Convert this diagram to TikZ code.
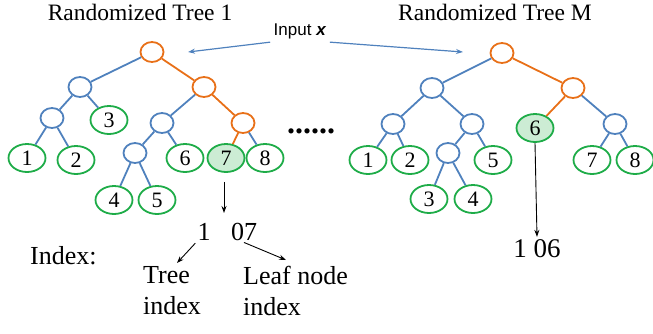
\documentclass[tikz,border=0pt]{standalone}
\usepackage{fontspec}
\setmainfont{Liberation Serif}
\newfontfamily\inputfont{Liberation Sans}
\usetikzlibrary{arrows.meta, shapes.geometric}
\definecolor{treeblue}{RGB}{79,129,189}
\definecolor{treeorange}{RGB}{232,112,24}
\definecolor{leafgreen}{RGB}{30,172,72}
\definecolor{leaffill}{RGB}{204,236,212}
\tikzset{
  inner/.style = {ellipse, draw = treeblue, line width = 1.8pt, minimum width = 23pt, minimum height = 20pt, inner sep = 0pt},
  pathnode/.style = {inner, draw = treeorange},
  leaf/.style = {ellipse, draw = leafgreen, line width = 1.8pt, minimum width = 37pt, minimum height = 28pt, inner sep = 0pt, font = \fontsize{22}{22}\selectfont},
  hitleaf/.style = {leaf, fill = leaffill},
  edge/.style = {treeblue, line width = 1.8pt},
  pathedge/.style = {treeorange, line width = 1.8pt},
  bigtext/.style = {font = \fontsize{26}{31}\selectfont, inner sep = 2pt},
  arr/.style = {-{Stealth[length = 7pt, width = 5pt]}, line width = 0.9pt}
}

\begin{document}
\begin{tikzpicture}[x = 1pt, y = -1pt]
\useasboundingbox (0,0) rectangle (653,333);
\node [font = \fontsize{23.5}{23.5}\selectfont] (title1) at (140,12) {Randomized Tree 1};
\node [font = \fontsize{23.5}{23.5}\selectfont] (titleM) at (495,12) {Randomized Tree M};
\node [font = \inputfont\fontsize{17}{17}\selectfont] (inp) at (300,31) {Input \textbf{\textit{x}}};

% tree 1
\node [pathnode] (ar) at (152,52) {};
\node [inner] (al) at (80,87) {};
\node [pathnode] (ab) at (204,87) {};
\node [inner] (aal) at (52,118) {};
\node [leaf] (a3) at (109,120) {3};
\node [inner] (abl) at (162,123) {};
\node [pathnode] (abr) at (243,123) {};
\node [leaf] (a1) at (27,158) {1};
\node [leaf] (a2) at (76,160) {2};
\node [inner] (aq) at (135,153) {};
\node [leaf] (a6) at (185,158) {6};
\node [hitleaf] (a7) at (226,158) {7};
\node [leaf] (a8) at (265,158) {8};
\node [leaf] (a4) at (114,200) {4};
\node [leaf] (a5) at (157,200) {5};
\foreach \p/\c in {ar/al, al/aal, al/a3, aal/a1, aal/a2, ab/abl, abl/aq, abl/a6, aq/a4, aq/a5, abr/a8}
  \draw [edge] (\p) -- (\c);
\foreach \p/\c in {ar/ab, ab/abr, abr/a7}
  \draw [pathedge] (\p) -- (\c);

\node [font = \bfseries\fontsize{32}{32}\selectfont] (dots) at (311,131) {......};

% tree M
\node [pathnode] (mr) at (502,53) {};
\node [inner] (ml) at (432,88) {};
\node [pathnode] (mb) at (573,88) {};
\node [inner] (mll) at (393,124) {};
\node [inner] (mlr) at (472,124) {};
\node [hitleaf] (m6) at (535,128) {6};
\node [inner] (mbr) at (615,124) {};
\node [leaf] (m1) at (368,160) {1};
\node [leaf] (m2) at (410,160) {2};
\node [inner] (mq) at (448,153) {};
\node [leaf] (m5) at (493,160) {5};
\node [leaf] (m7) at (592,160) {7};
\node [leaf] (m8) at (635,160) {8};
\node [leaf] (m3) at (429,199) {3};
\node [leaf] (m4) at (473,199) {4};
\foreach \p/\c in {mr/ml, ml/mll, ml/mlr, mll/m1, mll/m2, mlr/mq, mlr/m5, mq/m3, mq/m4, mb/mbr, mbr/m7, mbr/m8}
  \draw [edge] (\p) -- (\c);
\foreach \p/\c in {mr/mb, mb/m6}
  \draw [pathedge] (\p) -- (\c);

% input arrows
\coordinate (in1) at (188,52);
\coordinate (inM) at (463,52);
\draw [arr, line width = 1.2pt, treeblue] (inp.south west) -- (in1);
\draw [arr, line width = 1.2pt, treeblue] (inp.south east) -- (inM);

% index
\node [bigtext, anchor = base] (t1) at (204,240) {1};
\node [bigtext, anchor = base] (t07) at (244,240) {07};
\coordinate (e7) at (224,213);
\draw [arr, shorten < = 9pt] (a7.south -| e7) -- (e7);
\node [bigtext, anchor = base west, inner sep = 0pt] (idx) at (30,264) {Index:};
\node [bigtext, anchor = north west, align = left, inner sep = 0pt] (treeidx) at (143,266) {Tree\\index};
\node [bigtext, anchor = north west, align = left, inner sep = 0pt] (leafidx) at (243,266) {Leaf node\\index};
\coordinate (e1) at (177,263);
\coordinate (e2) at (286,260);
\draw [arr] (t1.south west) ++(0,1) -- (e1);
\draw [arr] (t07.south) -- (e2);
\node [bigtext, anchor = base, font = \fontsize{27}{27}\selectfont] (n06) at (537,257) {1 06};
\draw [arr] (m6.south) -- (n06.north);
\end{tikzpicture}
\end{document}
